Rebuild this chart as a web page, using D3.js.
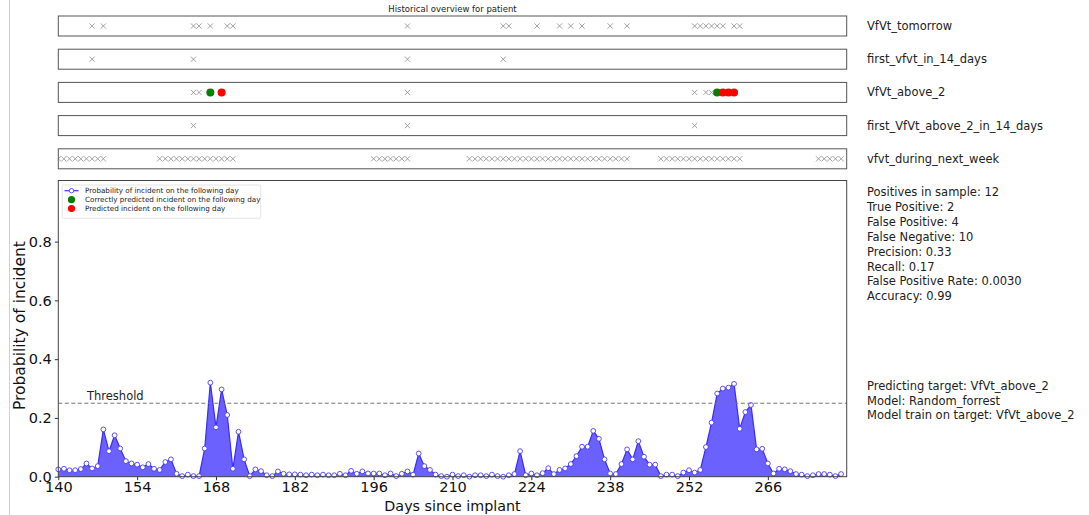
<!DOCTYPE html>
<html>
<head>
<meta charset="utf-8">
<script src="https://cdn.jsdelivr.net/npm/d3@7/dist/d3.min.js"></script>
<style>
  html, body { margin: 0; padding: 0; background: #fff; }
  svg { display: block; font-family: "DejaVu Sans", sans-serif; }
</style>
</head>
<body>
<svg id="chart" width="1089" height="515"></svg>
<script>
// ---------- data ----------
const days = d3.range(140, 280);
const probability = [
  0.025, 0.027, 0.022, 0.022, 0.026, 0.045, 0.028, 0.036, 0.161, 0.087,
  0.141, 0.096, 0.053, 0.045, 0.041, 0.032, 0.043, 0.027, 0.023, 0.050,
  0.059, 0.010, 0.002, 0.007, 0.002, 0.002, 0.096, 0.320, 0.168, 0.297,
  0.210, 0.027, 0.153, 0.059, 0.002, 0.025, 0.019, 0.005, 0.002, 0.018,
  0.010, 0.008, 0.008, 0.007, 0.005, 0.007, 0.005, 0.007, 0.005, 0.005,
  0.010, 0.005, 0.020, 0.010, 0.018, 0.011, 0.011, 0.011, 0.005, 0.011,
  0.002, 0.010, 0.018, 0.007, 0.079, 0.036, 0.023, 0.007, 0.002, 0.000,
  0.007, 0.002, 0.005, 0.000, 0.005, 0.005, 0.002, 0.007, 0.002, 0.000,
  0.005, 0.009, 0.087, 0.005, 0.011, 0.005, 0.012, 0.029, 0.009, 0.023,
  0.028, 0.043, 0.070, 0.102, 0.102, 0.156, 0.129, 0.059, 0.011, 0.009,
  0.043, 0.093, 0.059, 0.121, 0.068, 0.041, 0.041, 0.002, 0.007, 0.007,
  0.002, 0.014, 0.022, 0.014, 0.023, 0.101, 0.184, 0.283, 0.300, 0.303,
  0.316, 0.163, 0.220, 0.244, 0.093, 0.095, 0.045, 0.011, 0.027, 0.025,
  0.019, 0.009, 0.007, 0.002, 0.005, 0.009, 0.009, 0.007, 0.002, 0.009
];
const threshold = 0.25;

const stripNames = ["VfVt_tomorrow", "first_vfvt_in_14_days", "VfVt_above_2",
                    "first_VfVt_above_2_in_14_days", "vfvt_during_next_week"];
const vfvtTomorrow = [146, 148, 164, 165, 167, 170, 171, 202, 219, 220, 225, 229, 231,
                      233, 238, 241, 253, 254, 255, 256, 257, 258, 260, 261];
const firstVfvt14 = [146, 164, 202, 219];
const vfvtAbove2 = [164, 165, 167, 202, 253, 255, 256, 257];
const firstAbove2In14 = [164, 202, 253];
const vfvtNextWeek = [140, 141, 142, 143, 144, 145, 146, 147, 148,
  158, 159, 160, 161, 162, 163, 164, 165, 166, 167, 168, 169, 170, 171,
  196, 197, 198, 199, 200, 201, 202,
  213, 214, 215, 216, 217, 218, 219, 220, 221, 222, 223, 224, 225, 226, 227,
  228, 229, 230, 231, 232, 233, 234, 235, 236, 237, 238, 239, 240, 241,
  247, 248, 249, 250, 251, 252, 253, 254, 255, 256, 257, 258, 259, 260, 261,
  275, 276, 277, 278, 279];
const stripMarks = [vfvtTomorrow, firstVfvt14, vfvtAbove2, firstAbove2In14, vfvtNextWeek];
const correctPred = [167, 257];
const wrongPred = [169, 258, 259, 260];

const xTicks = [140, 154, 168, 182, 196, 210, 224, 238, 252, 266];
const yTicks = [0.0, 0.2, 0.4, 0.6, 0.8];

const legendLabels = ["Probability of incident on the following day",
                      "Correctly predicted incident on the following day",
                      "Predicted incident on the following day"];
const statsLines = ["Positives in sample: 12", "True Positive: 2", "False Positive: 4",
  "False Negative: 10", "Precision: 0.33", "Recall: 0.17",
  "False Positive Rate: 0.0030", "Accuracy: 0.99"];
const modelLines = ["Predicting target: VfVt_above_2", "Model: Random_forrest",
  "Model train on target: VfVt_above_2"];

// ---------- layout ----------
const svg = d3.select("#chart");
const L = 58.3, R = 846.7, T = 180.5, B = 476.7;
const x = d3.scaleLinear().domain([140, 280]).range([L, R]);
const y = d3.scaleLinear().domain([0, 1.008]).range([B, T]);

// left faint border line
svg.append("line").attr("x1", 9.5).attr("x2", 9.5).attr("y1", 0).attr("y2", 515)
  .attr("stroke", "#d0d0d0").attr("stroke-width", 1);

// title
svg.append("text").attr("x", (L + R) / 2).attr("y", 12).attr("text-anchor", "middle")
  .attr("font-size", 8.5).attr("fill", "#222").text("Historical overview for patient");

// strips
const stripTop0 = 16, stripH = 20, stripGap = 33.2;
const crossPath = (cx, cy, s) => `M${cx - s},${cy - s}L${cx + s},${cy + s}M${cx - s},${cy + s}L${cx + s},${cy - s}`;

stripNames.forEach((name, i) => {
  const top = stripTop0 + i * stripGap;
  const cy = top + stripH / 2;
  const g = svg.append("g");
  const clipId = "clip" + i;
  svg.append("clipPath").attr("id", clipId).append("rect")
    .attr("x", L).attr("y", top).attr("width", R - L).attr("height", stripH);
  g.append("g").attr("clip-path", `url(#${clipId})`)
    .selectAll("path").data(stripMarks[i]).join("path")
    .attr("d", d => crossPath(x(d), cy, 2.6))
    .attr("stroke", "#8a8a8a").attr("stroke-width", 0.8).attr("fill", "none");
  if (i === 2) {
    g.selectAll("circle.ok").data(correctPred).join("circle").attr("class", "ok")
      .attr("cx", d => x(d)).attr("cy", cy).attr("r", 4).attr("fill", "#008000");
    g.selectAll("circle.pred").data(wrongPred).join("circle").attr("class", "pred")
      .attr("cx", d => x(d)).attr("cy", cy).attr("r", 4).attr("fill", "#ff0000");
  }
  g.append("rect").attr("x", L).attr("y", top).attr("width", R - L).attr("height", stripH)
    .attr("fill", "none").attr("stroke", "#555").attr("stroke-width", 1);
  svg.append("text").attr("x", 867).attr("y", cy + 4).attr("font-size", 11.5)
    .attr("fill", "#222").text(name);
});

// ---------- main plot ----------
const data = days.map((d, i) => ({ day: d, p: probability[i] }));

svg.append("path").datum(data)
  .attr("d", d3.area().x(d => x(d.day)).y0(y(0)).y1(d => y(d.p)))
  .attr("fill", "#6a61ff");
svg.append("path").datum(data)
  .attr("d", d3.line().x(d => x(d.day)).y(d => y(d.p)))
  .attr("fill", "none").attr("stroke", "#3a2cff").attr("stroke-width", 1.2);
svg.append("g").selectAll("circle").data(data).join("circle")
  .attr("cx", d => x(d.day)).attr("cy", d => y(d.p)).attr("r", 2.4)
  .attr("fill", "#fff").attr("stroke", "#4a3cff").attr("stroke-width", 0.9);

// threshold
svg.append("line").attr("x1", L).attr("x2", R).attr("y1", y(threshold)).attr("y2", y(threshold))
  .attr("stroke", "#777").attr("stroke-width", 1).attr("stroke-dasharray", "4,2.5");
svg.append("text").attr("x", 87).attr("y", y(threshold) - 3).attr("font-size", 11.5)
  .attr("fill", "#222").text("Threshold");

// frame
svg.append("rect").attr("x", L).attr("y", T).attr("width", R - L).attr("height", B - T)
  .attr("fill", "none").attr("stroke", "#444").attr("stroke-width", 1);

// axes
const xAxis = svg.append("g").attr("transform", `translate(0,${B})`)
  .call(d3.axisBottom(x).tickValues(xTicks).tickFormat(d3.format("d")).tickSize(3.5).tickPadding(2));
const yAxis = svg.append("g").attr("transform", `translate(${L},0)`)
  .call(d3.axisLeft(y).tickValues(yTicks).tickFormat(d3.format(".1f")).tickSize(3.5).tickPadding(3));
[xAxis, yAxis].forEach(a => {
  a.select(".domain").remove();
  a.selectAll(".tick line").attr("stroke", "#333");
  a.selectAll(".tick text").attr("font-size", 14.5).attr("fill", "#111")
    .attr("font-family", "DejaVu Sans, sans-serif");
});

svg.append("text").attr("x", (L + R) / 2).attr("y", 511).attr("text-anchor", "middle")
  .attr("font-size", 14.3).attr("fill", "#111").text("Days since implant");
svg.append("text").attr("transform", `translate(25,${(T + B) / 2 - 3}) rotate(-90)`)
  .attr("text-anchor", "middle").attr("font-size", 15.5).attr("fill", "#111")
  .text("Probability of incident");

// legend
const lg = svg.append("g");
lg.append("rect").attr("x", 62.3).attr("y", 185).attr("width", 198.4).attr("height", 33.3)
  .attr("fill", "#fff").attr("stroke", "#ddd").attr("stroke-width", 0.8).attr("rx", 1.5);
const rowY = [190.7, 199.7, 208.5];
lg.append("line").attr("x1", 64.5).attr("x2", 78.5).attr("y1", rowY[0]).attr("y2", rowY[0])
  .attr("stroke", "#3a2cff").attr("stroke-width", 1.2);
lg.append("circle").attr("cx", 71.5).attr("cy", rowY[0]).attr("r", 2.2)
  .attr("fill", "#fff").attr("stroke", "#4a3cff").attr("stroke-width", 0.9);
lg.append("circle").attr("cx", 71.5).attr("cy", rowY[1]).attr("r", 3.6).attr("fill", "#008000");
lg.append("circle").attr("cx", 71.5).attr("cy", rowY[2]).attr("r", 3.6).attr("fill", "#ff0000");
legendLabels.forEach((t, i) => {
  lg.append("text").attr("x", 85).attr("y", rowY[i] + 2.6).attr("font-size", 7.2)
    .attr("fill", "#222").text(t);
});

// right-side text
statsLines.forEach((t, i) => {
  svg.append("text").attr("x", 867).attr("y", 196.3 + i * 14.85).attr("font-size", 11.5)
    .attr("fill", "#222").text(t);
});
modelLines.forEach((t, i) => {
  svg.append("text").attr("x", 867).attr("y", 390 + i * 14.6).attr("font-size", 11.5)
    .attr("fill", "#222").text(t);
});
</script>
</body>
</html>
